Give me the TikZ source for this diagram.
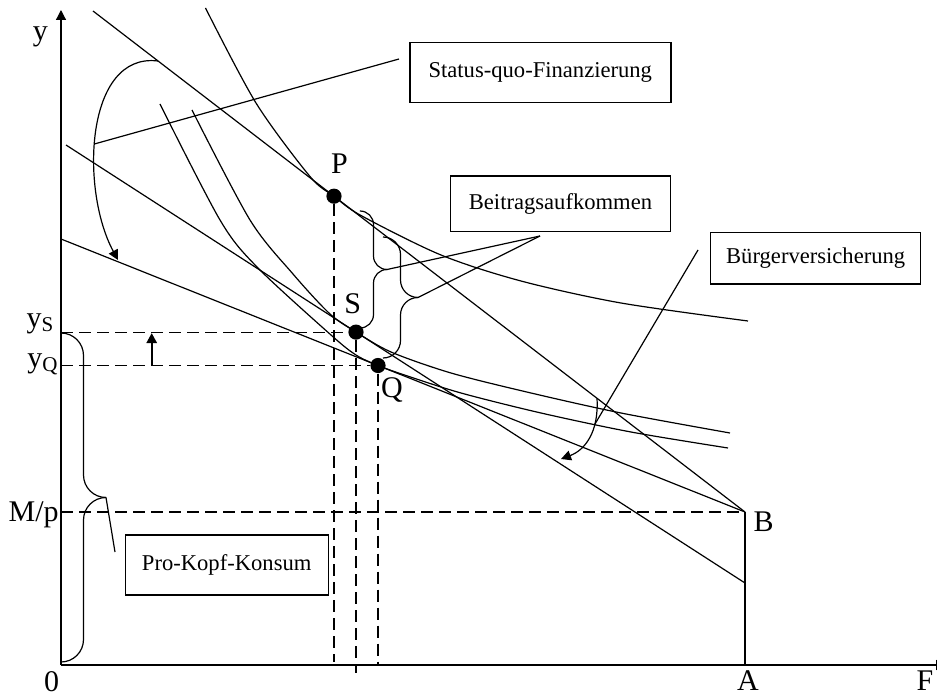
\documentclass[tikz,border=0pt]{standalone}
\usepackage{fontspec}
\setmainfont{Liberation Serif}
\usetikzlibrary{arrows.meta}

\tikzset{
  guide/.style={dash pattern=on 6pt off 3pt},
  infobox/.style={draw, line width=0.7pt, inner sep=0pt, font=\fontsize{11.3}{13}\selectfont},
  dot/.style={circle, fill, inner sep=0pt, minimum size=7.6pt},
  biglabel/.style={font=\fontsize{15}{18}\selectfont, inner sep=0pt, anchor=base},
}

% right brace: x, top, bottom, half depth, corner radius
\newcommand{\bracepath}[5]{%
  \draw[rounded corners=#5] (#1,#2) -- ({#1+#4},#2) -- ({#1+#4},{(#2+#3)/2}) -- ({#1+2*#4},{(#2+#3)/2});
  \draw[rounded corners=#5] ({#1+2*#4},{(#2+#3)/2}) -- ({#1+#4},{(#2+#3)/2}) -- ({#1+#4},#3) -- (#1,#3);}

\begin{document}
\begin{tikzpicture}[x=50pt, y=50pt, line width=0.6pt, >={Triangle[length=5pt,width=5pt]}]
  \useasboundingbox (-0.61,-0.33) rectangle (8.76,6.65);

  % axes
  \coordinate (O) at (0,0);
  \coordinate (A) at (6.84,0);
  \coordinate (B) at (6.84,1.53);
  \coordinate (Mp) at (0,1.53);
  \draw[->] (O) -- (0,6.55);
  \draw[->] (O) -- (8.85,0);
  \draw (A) -- (B);

  % budget lines
  \coordinate (l1) at (0.32,6.54);
  \coordinate (l2a) at (0.05,5.20);
  \coordinate (l2b) at (6.84,0.82);
  \coordinate (l3) at (0,4.26);
  \draw (l1) -- (B);
  \draw (l2a) -- (l2b);
  \draw (l3) -- (B);

  % indifference curves
  \draw plot[smooth] coordinates {(1.445,6.57) (1.95,5.62) (2.49,4.885) (2.73,4.688)
    (3.0,4.495) (3.8,4.10) (4.6,3.84) (5.6,3.62) (6.87,3.44)};
  \draw plot[smooth] coordinates {(1.31,5.55) (1.89,4.45) (2.32,3.91) (2.69,3.51)
    (2.95,3.33) (3.3,3.13) (3.9,2.92) (4.7,2.72) (5.6,2.52) (6.69,2.32)};
  \draw plot[smooth] coordinates {(0.99,5.61) (1.59,4.45) (1.96,3.98) (2.7,3.30)
    (2.95,3.10) (3.17,2.995) (3.45,2.895) (4.0,2.72) (4.8,2.52) (5.7,2.33) (6.67,2.17)};

  % optima
  \node[dot] (P) at (2.73,4.688) {};
  \node[dot] (S) at (2.95,3.329) {};
  \node[dot] (Q) at (3.17,2.995) {};

  % dashed guides
  \draw[guide] (Mp) -- (B);
  \draw[guide] (O |- S) -- (S);
  \draw[guide] (O |- Q) -- (Q);
  \draw[guide] (P) -- (P |- 0,0.03);
  \draw[guide] (S) -- (S |- 0,-0.08);
  \draw[guide] (Q) -- (Q |- O);

  % shift of y
  \coordinate (ya) at (0.907,3.0);
  \coordinate (yb) at (0.907,3.32);
  \draw[->, line width=1.2pt] (ya) -- (yb);

  % braces
  \bracepath{0}{3.32}{0.03}{0.225}{11.25pt}
  \bracepath{2.99}{4.54}{3.37}{0.135}{6.75pt}
  \bracepath{3.22}{4.28}{3.07}{0.175}{8.75pt}
  \coordinate (pktip) at (0.45,1.675);
  \coordinate (b1tip) at (3.26,3.955);
  \coordinate (b2tip) at (3.57,3.675);

  % rotation arrows
  \draw[->] (0.97,6.04) .. controls (0.24,6.13) and (0.19,4.75) .. (0.57,4.05)
    coordinate[pos=0.55] (sqmid);
  \draw[->] (5.36,2.667) .. controls (5.38,2.33) and (5.24,2.15) .. (5.00,2.06)
    coordinate[pos=0.3] (bvmid);

  % text boxes
  \node[infobox, minimum width=130.5pt, minimum height=30pt] (sqbox) at (4.793,5.927) {Status-quo-Finanzierung};
  \node[infobox, minimum width=110pt, minimum height=27.8pt] (btbox) at (4.995,4.612) {Beitragsaufkommen};
  \node[infobox, minimum width=105pt, minimum height=25.6pt] (bvbox) at (7.547,4.067) {Bürgerversicherung};
  \node[infobox, minimum width=101.5pt, minimum height=30pt] (pkbox) at (1.657,1.00) {Pro-Kopf-Konsum};

  % leaders
  \coordinate (sqend) at (3.38,6.06);
  \coordinate (btjoin) at (4.79,4.29);
  \coordinate (bvstart) at (6.37,4.15);
  \coordinate (pkend) at (0.54,1.13);
  \draw (sqmid) -- (sqend);
  \draw (b1tip) -- (btjoin);
  \draw (b2tip) -- (btjoin);
  \draw (bvstart) -- (bvmid);
  \draw (pktip) -- (pkend);

  % labels
  \node[biglabel] (ylab) at (-0.205,6.248) {y};
  \node[biglabel] (zero) at (-0.095,-0.26) {0};
  \node[biglabel] (Alab) at (6.87,-0.25) {A};
  \node[biglabel] (Flab) at (8.64,-0.25) {F};
  \node[biglabel] (Blab) at (7.025,1.333) {B};
  \node[biglabel, anchor=base east] (Mplab) at (-0.017,1.433) {M/p};
  \node[biglabel] (ySlab) at (-0.205,3.38) {y\textsubscript{S}};
  \node[biglabel] (yQlab) at (-0.18,2.98) {y\textsubscript{Q}};
  \node[biglabel] (Plab) at (2.785,4.917) {P};
  \node[biglabel] (Slab) at (2.918,3.517) {S};
  \node[biglabel] (Qlab) at (3.31,2.68) {Q};
\end{tikzpicture}
\end{document}
